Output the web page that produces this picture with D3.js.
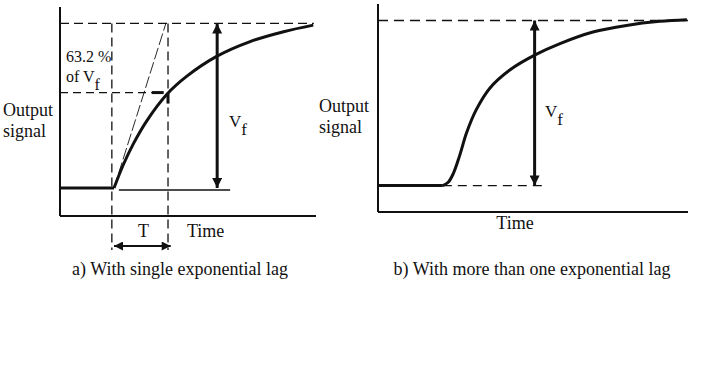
<!DOCTYPE html>
<html>
<head>
<meta charset="utf-8">
<script src="https://cdn.jsdelivr.net/npm/d3@7"></script>
<style>
  body { margin: 0; background: #fff; }
</style>
</head>
<body>
<div id="chart"></div>
<script>
//panel a: single lag response (time in units of T, signal as fraction of Vf)
var lagTimeA = [0, 0.17, 0.36, 0.61, 0.98, 1.35, 1.9, 2.52, 3.14, 3.69];
var lagValueA = [0, 0.14, 0.27, 0.41, 0.57, 0.68, 0.8, 0.89, 0.95, 0.99];
var tangentTime = [0, 0.96];
var tangentValue = [0, 1];
var markLevel = 0.58;   // the "63.2 %" level as drawn
var markTime = 1;       // T

//panel b: more than one lag
var lagTimeB = [0, 0.1, 0.19, 0.31, 0.44, 0.62, 0.87, 1.24, 1.7, 2.17, 2.78, 3.4, 4.02, 4.52];
var lagValueB = [0, 0.02, 0.07, 0.18, 0.32, 0.46, 0.59, 0.7, 0.79, 0.86, 0.93, 0.97, 0.995, 1.005];

//labels
var captions = ["a) With single exponential lag", "b) With more than one exponential lag"];
var yLabel = ["Output", "signal"];
var xLabel = "Time";

var svgWidth = 706;
var svgHeight = 366;
var serif = "'Liberation Serif', 'DejaVu Serif', 'Times New Roman', serif";

var svg = d3.select("#chart").append("svg")
    .attr("width", svgWidth)
    .attr("height", svgHeight)
    .attr("font-family", serif)
    .style("font-family", serif);

//arrow heads
var defs = svg.append("defs");
defs.append("marker")
    .attr("id", "head")
    .attr("viewBox", "0 0 10 10")
    .attr("refX", 10).attr("refY", 5)
    .attr("markerUnits", "userSpaceOnUse")
    .attr("markerWidth", 15).attr("markerHeight", 10)
    .attr("orient", "auto-start-reverse")
    .append("path").attr("d", "M0,0 L10,5 L0,10 Z").attr("fill", "#111");
defs.append("marker")
    .attr("id", "headSmall")
    .attr("viewBox", "0 0 10 10")
    .attr("refX", 10).attr("refY", 5)
    .attr("markerUnits", "userSpaceOnUse")
    .attr("markerWidth", 14).attr("markerHeight", 9)
    .attr("orient", "auto-start-reverse")
    .append("path").attr("d", "M0,0 L10,5 L0,10 Z").attr("fill", "#111");

function seg(g, x1, y1, x2, y2, w, dash) {
    return g.append("line")
        .attr("x1", x1).attr("y1", y1).attr("x2", x2).attr("y2", y2)
        .attr("stroke", "#111")
        .attr("stroke-width", w)
        .attr("stroke-dasharray", dash || null);
}

function label(g, x, y, s, size) {
    return g.append("text").attr("x", x).attr("y", y)
        .attr("font-family", serif).attr("font-size", (size || 18) + "px").attr("fill", "#111")
        .text(s || null);
}

function vfLabel(g, x, y) {
    var t = label(g, x, y, null, 17);
    t.append("tspan").text("V");
    t.append("tspan").attr("dy", 8).text("f");
    return t;
}

//================ panel a ================
var xA = d3.scaleLinear().domain([-1, 3.74]).range([60, 316]);
var yA = d3.scaleLinear().domain([-0.17, 1.1]).range([216, 7]);
var gA = svg.append("g");

//axes
seg(gA, xA(-1), yA(1.1), xA(-1), yA(-0.17), 2);
seg(gA, xA(-1), yA(-0.17), xA(3.74), yA(-0.17), 2);

//dashed guides
seg(gA, xA(-1), yA(1), xA(3.7), yA(1), 1.3, "9,5");
seg(gA, xA(-0.04), yA(1), xA(-0.04), 250, 1.3, "9,5");
seg(gA, xA(markTime), yA(1), xA(markTime), 250, 1.3, "9,5");
seg(gA, xA(-1), yA(markLevel), xA(0.7), yA(markLevel), 1.3, "8,5");
seg(gA, xA(0.7), yA(markLevel), xA(0.92), yA(markLevel), 3);
seg(gA, xA(markTime), yA(markLevel) + 1, xA(markTime), yA(markLevel) + 11, 3);

//thin tangent
var lineA = d3.line().x(function(d) { return xA(d[0]); }).y(function(d) { return yA(d[1]); });
gA.append("path")
    .datum(d3.zip(tangentTime, tangentValue))
    .attr("d", lineA)
    .attr("fill", "none").attr("stroke", "#111").attr("stroke-width", 0.9)
    .attr("stroke-dasharray", "12,3");

//thin baseline
seg(gA, xA(0.09), yA(-0.012), xA(2.15), yA(-0.012), 1.3);

//step + response
gA.append("path")
    .datum([[-1, 0], [0, 0]])
    .attr("d", lineA)
    .attr("fill", "none").attr("stroke", "#111").attr("stroke-width", 3);
gA.append("path")
    .datum(d3.zip(lagTimeA, lagValueA))
    .attr("d", lineA.curve(d3.curveCatmullRom))
    .attr("fill", "none").attr("stroke", "#111").attr("stroke-width", 3);

//Vf arrow
gA.append("line")
    .attr("x1", xA(1.91)).attr("y1", yA(0)).attr("x2", xA(1.91)).attr("y2", yA(1))
    .attr("stroke", "#111").attr("stroke-width", 3)
    .attr("marker-start", "url(#head)").attr("marker-end", "url(#head)");
vfLabel(gA, 229, 127);

//T arrow
gA.append("line")
    .attr("x1", xA(0)).attr("y1", 246).attr("x2", xA(1.05)).attr("y2", 246)
    .attr("stroke", "#111").attr("stroke-width", 2)
    .attr("marker-start", "url(#headSmall)").attr("marker-end", "url(#headSmall)");
label(gA, 138, 237, "T");
label(gA, 187, 237, xLabel);

//63.2 % label
label(gA, 66, 62, "63.2 %", 16);
var ofV = label(gA, 66, 82, null, 16);
ofV.append("tspan").text("of V");
ofV.append("tspan").attr("dy", 8).text("f");

//y label
yLabel.forEach(function(d, i) { label(gA, 3, 116 + i * 21, d); });

label(gA, 180, 275, captions[0]).attr("text-anchor", "middle");

//================ panel b ================
var xB = d3.scaleLinear().domain([-1.2, 4.54]).range([378, 688]);
var yB = d3.scaleLinear().domain([-0.16, 1.1]).range([212, 4]);
var gB = svg.append("g");
var lineB = d3.line().x(function(d) { return xB(d[0]); }).y(function(d) { return yB(d[1]); });

seg(gB, xB(-1.2), yB(1.1), xB(-1.2), yB(-0.16), 2);
seg(gB, xB(-1.2), yB(-0.16), xB(4.54), yB(-0.16), 2);

seg(gB, xB(-1.2), yB(1), xB(4.54), yB(1), 1.3, "10,6");
seg(gB, xB(0), yB(0), xB(1.9), yB(0), 1.3, "9,6");

gB.append("path")
    .datum([[-1.2, 0], [0, 0]])
    .attr("d", lineB)
    .attr("fill", "none").attr("stroke", "#111").attr("stroke-width", 3);
gB.append("path")
    .datum(d3.zip(lagTimeB, lagValueB))
    .attr("d", lineB.curve(d3.curveCatmullRom))
    .attr("fill", "none").attr("stroke", "#111").attr("stroke-width", 3);

gB.append("line")
    .attr("x1", xB(1.7)).attr("y1", yB(0)).attr("x2", xB(1.7)).attr("y2", yB(1))
    .attr("stroke", "#111").attr("stroke-width", 3)
    .attr("marker-start", "url(#head)").attr("marker-end", "url(#head)");
vfLabel(gB, 545, 117);

yLabel.forEach(function(d, i) { label(gB, 319, 112 + i * 21, d); });

label(gB, 515, 229, xLabel).attr("text-anchor", "middle");
label(gB, 532, 275, captions[1]).attr("text-anchor", "middle");
</script>
</body>
</html>
